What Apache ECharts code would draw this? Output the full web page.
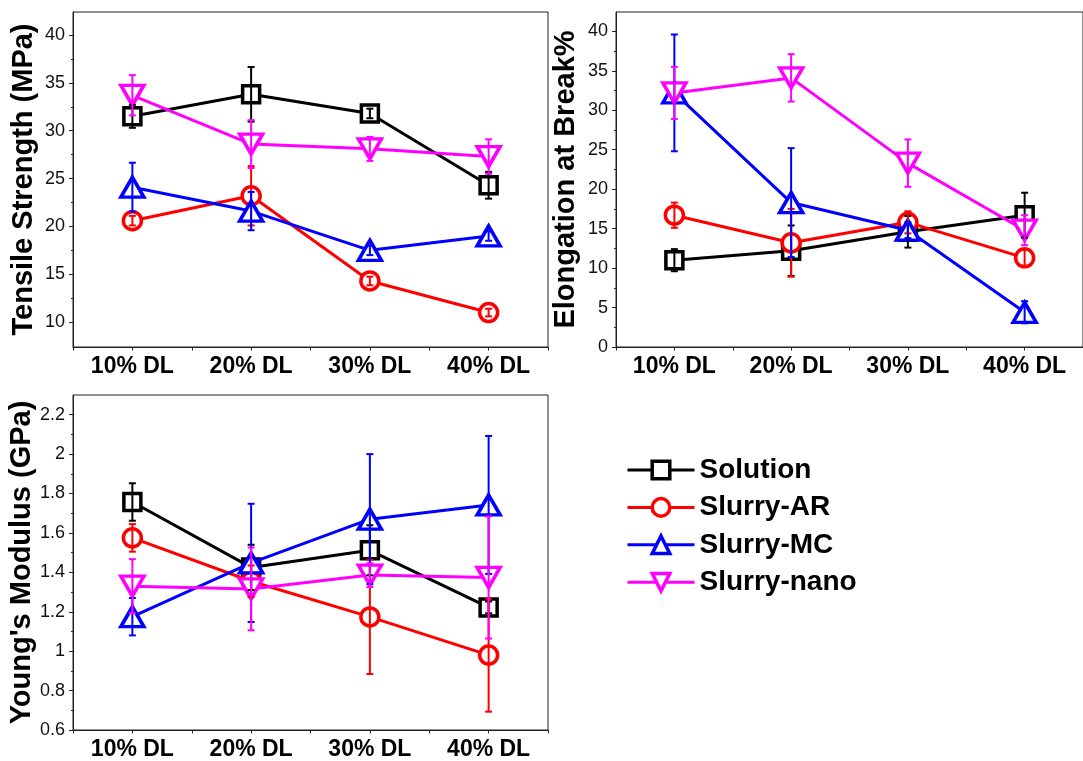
<!DOCTYPE html>
<html>
<head>
<meta charset="utf-8">
<script src="https://cdn.jsdelivr.net/npm/echarts@6/dist/echarts.min.js"></script>
<style>
html,body{margin:0;padding:0;background:#fff;}
#c{width:1083px;height:761px;}
</style>
</head>
<body>
<div id="c"></div>
<script>
// ---------- data ----------
const categories = ['10% DL', '20% DL', '30% DL', '40% DL'];
const seriesNames = ['Solution', 'Slurry-AR', 'Slurry-MC', 'Slurry-nano'];

const tensileSolution = [31.5, 33.8, 31.8, 24.3];
const tensileSolutionErr = [1.2, 2.85, 0.5, 1.4];
const tensileAR = [20.6, 23.2, 14.3, 11.0];
const tensileARErr = [0.5, 3.1, 0.45, 0.4];
const tensileMC = [24.1, 21.6, 17.5, 19.0];
const tensileMCErr = [2.55, 2.0, 0.5, 0.5];
const tensileNano = [33.7, 28.6, 28.1, 27.3];
const tensileNanoErr = [2.1, 2.5, 1.25, 1.8];

const elongSolution = [11.0, 12.2, 14.6, 16.7];
const elongSolutionErr = [1.4, 3.2, 2.0, 2.85];
const elongAR = [16.7, 13.2, 15.8, 11.3];
const elongARErr = [1.6, 4.3, 1.4, 1.0];
const elongMC = [32.2, 18.3, 14.8, 4.4];
const elongMCErr = [7.4, 6.9, 1.0, 1.4];
const elongNano = [32.2, 34.1, 23.3, 14.8];
const elongNanoErr = [3.3, 3.0, 3.0, 1.9];

const youngSolution = [1.757, 1.425, 1.512, 1.222];
const youngSolutionErr = [0.095, 0.115, 0.127, 0.03];
const youngAR = [1.575, 1.355, 1.174, 0.98];
const youngARErr = [0.07, 0.08, 0.29, 0.287];
const youngMC = [1.175, 1.448, 1.67, 1.742];
const youngMCErr = [0.095, 0.30, 0.33, 0.35];
const youngNano = [1.33, 1.316, 1.386, 1.374];
const youngNanoErr = [0.137, 0.21, 0.06, 0.31];

const tensileTicks = [10, 15, 20, 25, 30, 35, 40];
const tensileMinor = [12.5, 17.5, 22.5, 27.5, 32.5, 37.5];
const elongTicks = [0, 5, 10, 15, 20, 25, 30, 35, 40];
const elongMinor = [2.5, 7.5, 12.5, 17.5, 22.5, 27.5, 32.5, 37.5];
const youngTicks = [0.6, 0.8, 1, 1.2, 1.4, 1.6, 1.8, 2, 2.2];
const youngMinor = [0.7, 0.9, 1.1, 1.3, 1.5, 1.7, 1.9, 2.1];

// ---------- styling ----------
const FONT = 'Liberation Sans, Arial, sans-serif';
const colors = ['#000000', '#ff0000', '#0000ff', '#ff00ff'];
const symbols = ['rect', 'circle', 'triangle', 'triangle'];
const symbolSizes = [17, 18, [23, 20], [23, 20]];
const symbolRotates = [0, 0, 0, 180];
const AXIS_COLOR = '#222';

const panels = [
  {name: 'Tensile Strength (MPa)', min: 7.4, max: 42.4, ticks: tensileTicks, minor: tensileMinor,
   vals: [tensileSolution, tensileAR, tensileMC, tensileNano],
   errs: [tensileSolutionErr, tensileARErr, tensileMCErr, tensileNanoErr],
   grid: {left: 73, top: 12, width: 475, height: 335}, nameGap: 35},
  {name: 'Elongation at Break%', min: 0, max: 42.45, ticks: elongTicks, minor: elongMinor,
   vals: [elongSolution, elongAR, elongMC, elongNano],
   errs: [elongSolutionErr, elongARErr, elongMCErr, elongNanoErr],
   grid: {left: 616, top: 12, width: 475, height: 335}, nameGap: 36},
  {name: "Young's Modulus (GPa)", min: 0.6, max: 2.3, ticks: youngTicks, minor: youngMinor,
   vals: [youngSolution, youngAR, youngMC, youngNano],
   errs: [youngSolutionErr, youngARErr, youngMCErr, youngNanoErr],
   grid: {left: 73, top: 395, width: 475, height: 335}, nameGap: 35}
];

const grids = [], xAxes = [], yAxes = [], series = [];

function errRender(params, api) {
  const x = api.value(0), lo = api.value(1), hi = api.value(2);
  const p1 = api.coord([x, hi]);
  const p2 = api.coord([x, lo]);
  const w = 3.5;
  const style = {stroke: api.visual('color'), lineWidth: 2};
  return {
    type: 'group',
    children: [
      {type: 'line', shape: {x1: p1[0], y1: p1[1], x2: p2[0], y2: p2[1]}, style: style},
      {type: 'line', shape: {x1: p1[0] - w, y1: p1[1], x2: p1[0] + w, y2: p1[1]}, style: style},
      {type: 'line', shape: {x1: p2[0] - w, y1: p2[1], x2: p2[0] + w, y2: p2[1]}, style: style}
    ]
  };
}

panels.forEach(function (p, gi) {
  grids.push(Object.assign({show: true, borderColor: AXIS_COLOR, borderWidth: 1, backgroundColor: 'transparent'}, p.grid));
  xAxes.push({
    type: 'category', gridIndex: gi, data: categories, position: 'bottom', boundaryGap: true,
    axisLine: {lineStyle: {color: AXIS_COLOR, width: 1}},
    axisTick: {show: true, alignWithLabel: true, length: 3.5, lineStyle: {color: AXIS_COLOR}},
    axisLabel: {margin: 8, fontFamily: FONT, fontSize: 23, fontWeight: 'bold', color: '#000'},
    splitLine: {show: false}
  });
  xAxes.push({
    type: 'category', gridIndex: gi, data: categories, position: 'bottom', boundaryGap: true,
    axisLine: {show: false},
    axisTick: {show: true, alignWithLabel: false, length: 3.5, lineStyle: {color: AXIS_COLOR}},
    axisLabel: {show: false}, splitLine: {show: false}
  });
  yAxes.push({
    type: 'value', gridIndex: gi, position: 'left', min: p.min, max: p.max,
    name: p.name, nameLocation: 'middle', nameGap: p.nameGap,
    nameTextStyle: {fontFamily: FONT, fontSize: 29, fontWeight: 'bold', color: '#000'},
    axisLine: {show: true, lineStyle: {color: AXIS_COLOR, width: 1}},
    axisTick: {show: true, length: 4, customValues: p.ticks, lineStyle: {color: AXIS_COLOR}},
    axisLabel: {margin: 8, customValues: p.ticks, fontFamily: FONT, fontSize: 18, color: '#111'},
    splitLine: {show: false}
  });
  yAxes.push({
    type: 'value', gridIndex: gi, position: 'left', min: p.min, max: p.max,
    axisLine: {show: false},
    axisTick: {show: true, length: 2, customValues: p.minor, lineStyle: {color: AXIS_COLOR}},
    axisLabel: {show: false}, splitLine: {show: false}
  });
  const xi = gi * 2, yi = gi * 2;
  p.vals.forEach(function (vals, si) {
    series.push({
      type: 'line', name: seriesNames[si], xAxisIndex: xi, yAxisIndex: yi,
      data: vals, color: colors[si],
      symbol: symbols[si], symbolSize: symbolSizes[si], symbolRotate: symbolRotates[si],
      showAllSymbol: true,
      lineStyle: {color: colors[si], width: 3},
      itemStyle: {color: '#ffffff', borderColor: colors[si], borderWidth: 3.5},
      emphasis: {disabled: true}, animation: false, z: 2 + si * 0.01
    });
  });
  p.vals.forEach(function (vals, si) {
    const errData = vals.map(function (v, i) { return [i, v - p.errs[si][i], v + p.errs[si][i]]; });
    series.push({
      type: 'custom', name: seriesNames[si] + ' error', xAxisIndex: xi, yAxisIndex: yi,
      data: errData, color: colors[si], renderItem: errRender,
      encode: {x: 0, y: [1, 2]}, z: 5, animation: false, silent: true
    });
  });
});

const chart = echarts.init(document.getElementById('c'), null, {renderer: 'canvas'});
chart.setOption({
  backgroundColor: '#ffffff',
  animation: false,
  grid: grids,
  xAxis: xAxes,
  yAxis: yAxes,
  legend: {
    data: seriesNames, orient: 'vertical', left: 621, top: 451,
    itemWidth: 67, itemHeight: 22, itemGap: 9.4,
    itemStyle: {borderWidth: 3.5},
    lineStyle: {width: 3},
    textStyle: {fontFamily: FONT, fontSize: 28, fontWeight: 'bold', color: '#000', padding: [0, 0, 0, 0]},
    selectedMode: false
  },
  series: series
});
</script>
</body>
</html>
